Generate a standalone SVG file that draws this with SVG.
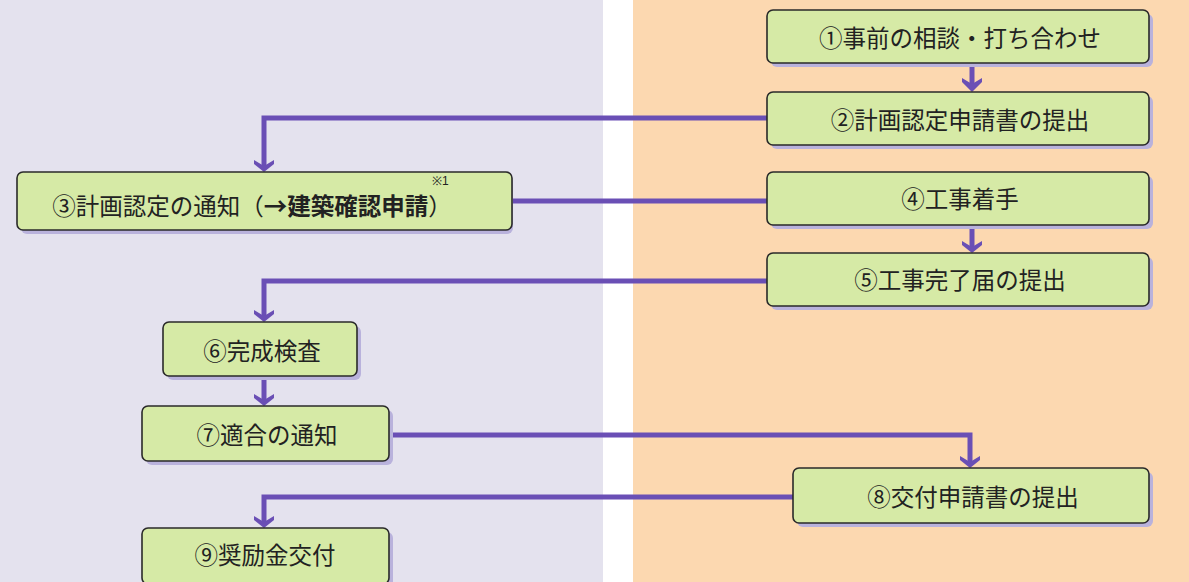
<svg xmlns="http://www.w3.org/2000/svg" width="1189" height="582" viewBox="0 0 1189 582">
<defs>
<style>
.box{fill:#d6eaa6;stroke:#2a2a2a;stroke-width:1.6}
.sh{fill:#b9b2dc}
.t{font-family:"Noto Sans CJK JP","Noto Sans",sans-serif;font-size:23.5px;fill:#222;text-anchor:middle;dominant-baseline:central}
.b{font-weight:bold}
.c{fill:none;stroke:#6a4fb5;stroke-width:5;stroke-linejoin:miter}
.ah{fill:#6a4fb5}
</style>
</defs>
<rect x="0" y="0" width="603" height="582" fill="#e4e2ee"/>
<rect x="603" y="0" width="30" height="582" fill="#ffffff"/>
<rect x="633" y="0" width="556" height="582" fill="#fcd8b0"/>

<g id="connectors">
<path class="c" d="M972,64 V86"/>
<path class="c" d="M767,118 H264 V166"/>
<path class="c" d="M513,201 H767"/>
<path class="c" d="M972,226 V247"/>
<path class="c" d="M767,281 H264 V316"/>
<path class="c" d="M264,377 V400"/>
<path class="c" d="M390,435 H970 V462"/>
<path class="c" d="M793,497 H264 V522"/>
<g class="ah">
<path d="M962,78 L972,84 L982,78 L982,82 L972,92 L962,82 Z"/>
<path d="M254,160 L264,166 L274,160 L274,164 L264,172 L254,164 Z"/>
<path d="M962,241 L972,247 L982,241 L982,245 L972,253 L962,245 Z"/>
<path d="M254,310 L264,316 L274,310 L274,314 L264,322 L254,314 Z"/>
<path d="M254,394 L264,400 L274,394 L274,398 L264,406 L254,398 Z"/>
<path d="M960,456 L970,462 L980,456 L980,460 L970,468 L960,460 Z"/>
<path d="M254,516 L264,522 L274,516 L274,520 L264,528 L254,520 Z"/>
</g>
</g>

<g id="n1"><rect class="sh" x="771" y="14" width="382" height="53" rx="6"/><rect class="box" x="767" y="10" width="382" height="53" rx="6"/><text class="t" x="960" y="37">①事前の相談・打ち合わせ</text></g>
<g id="n2"><rect class="sh" x="771" y="96" width="382" height="53" rx="6"/><rect class="box" x="767" y="92" width="382" height="53" rx="6"/><text class="t" x="960" y="119">②計画認定申請書の提出</text></g>
<g id="n3"><rect class="sh" x="21" y="176" width="492" height="58" rx="6"/><rect class="box" x="17" y="172" width="495" height="58" rx="6"/><text class="t" x="252" y="205">③計画認定の通知（<tspan class="b">→建築確認申請</tspan>）</text><text x="432" y="185" style="font-family:'Liberation Sans',sans-serif;font-size:12px;fill:#222">※1</text></g>
<g id="n4"><rect class="sh" x="771" y="176" width="382" height="53" rx="6"/><rect class="box" x="767" y="172" width="382" height="53" rx="6"/><text class="t" x="960" y="198">④工事着手</text></g>
<g id="n5"><rect class="sh" x="771" y="257" width="382" height="53" rx="6"/><rect class="box" x="767" y="253" width="382" height="53" rx="6"/><text class="t" x="960" y="279">⑤工事完了届の提出</text></g>
<g id="n6"><rect class="sh" x="167" y="326" width="194" height="54" rx="6"/><rect class="box" x="163" y="322" width="194" height="54" rx="6"/><text class="t" x="262" y="350">⑥完成検査</text></g>
<g id="n7"><rect class="sh" x="146" y="410" width="247" height="55" rx="6"/><rect class="box" x="142" y="406" width="247" height="55" rx="6"/><text class="t" x="267" y="434">⑦適合の通知</text></g>
<g id="n8"><rect class="sh" x="797" y="472" width="356" height="55" rx="6"/><rect class="box" x="793" y="468" width="356" height="55" rx="6"/><text class="t" x="973" y="496">⑧交付申請書の提出</text></g>
<g id="n9"><rect class="sh" x="146" y="532" width="247" height="56" rx="6"/><rect class="box" x="142" y="528" width="247" height="56" rx="6"/><text class="t" x="265" y="554">⑨奨励金交付</text></g>
</svg>
